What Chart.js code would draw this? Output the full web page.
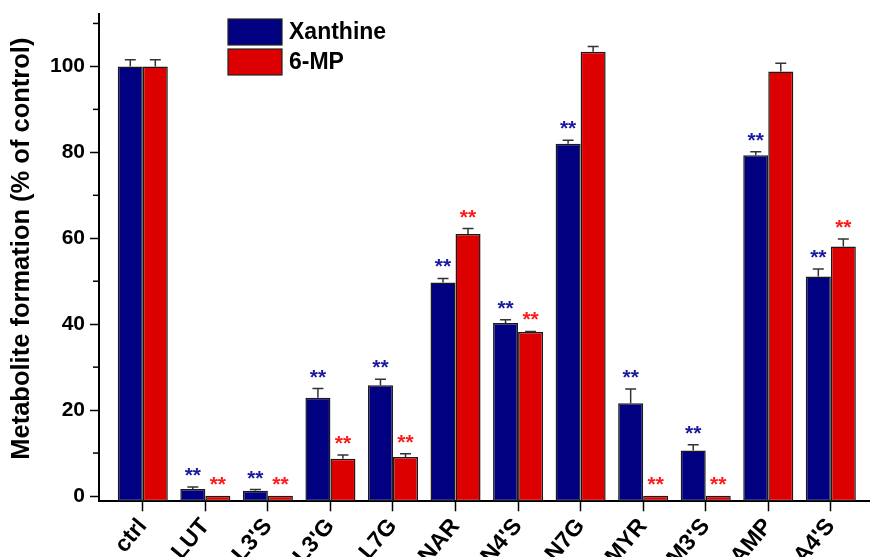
<!DOCTYPE html>
<html>
<head>
<meta charset="utf-8">
<script src="https://cdn.jsdelivr.net/npm/chart.js@4/dist/chart.umd.min.js"></script>
<style>
  html, body { margin: 0; padding: 0; overflow: hidden; background: #fff; }
  #wrap { position: absolute; left: 0; top: 0; width: 880px; height: 600px; }
</style>
</head>
<body>
<div id="wrap"><canvas id="c" width="880" height="600"></canvas></div>
<script>
// ---- data ----
const categories = ["ctrl", "LUT", "L3'S", "L3'G", "L7G", "NAR", "N4'S", "N7G", "MYR", "M3'S", "AMP", "A4'S"];
const xanthine    = [100, 1.65, 1.25, 22.9, 25.8, 49.7, 40.3, 82.0, 21.6, 10.6, 79.3, 51.1];
const xanthineErr = [1.55, 0.45, 0.25, 2.1, 1.4, 0.95, 0.75, 0.8, 3.3, 1.35, 0.85, 1.75];
const mp6         = [100, 0.05, 0.05, 8.7, 9.1, 61.0, 38.2, 103.4, 0.05, 0.05, 98.8, 58.1];
const mp6Err      = [1.55, 0, 0, 0.85, 0.75, 1.25, 0.1, 1.25, 0, 0, 1.95, 1.75];
const xanthineSig = [false, true, true, true, true, true, true, true, true, true, true, true];
const mp6Sig      = [false, true, true, true, true, true, true, false, true, true, false, true];
const yTicks = [0, 10, 20, 30, 40, 50, 60, 70, 80, 90, 100, 110];
const yTitle = 'Metabolite formation (% of control)';

const Y_MIN = -1.23, Y_MAX = 112.2;
const FONT = "'Liberation Sans', Arial, sans-serif";
const BLUE = '#000080', RED = '#dd0000';
const STAR_BLUE = '#1a1aa0', STAR_RED = '#ff1a1a';

const errs = [xanthineErr, mp6Err];
const sigs = [xanthineSig, mp6Sig];
const starColors = [STAR_BLUE, STAR_RED];

const extras = {
  id: 'extras',
  afterDatasetsDraw(chart) {
    const ctx = chart.ctx;
    const y = chart.scales.y;
    const area = chart.chartArea;
    ctx.save();
    // error bars and significance marks
    chart.data.datasets.forEach((ds, i) => {
      const meta = chart.getDatasetMeta(i);
      meta.data.forEach((bar, j) => {
        const v = ds.data[j].y;
        const e = errs[i][j];
        const yTop = y.getPixelForValue(v + e);
        if (e > 0) {
          ctx.strokeStyle = '#333';
          ctx.lineWidth = 1.5;
          ctx.beginPath();
          ctx.moveTo(bar.x, bar.y);
          ctx.lineTo(bar.x, yTop);
          ctx.moveTo(bar.x - 5.5, yTop);
          ctx.lineTo(bar.x + 5.5, yTop);
          ctx.stroke();
        }
        if (sigs[i][j]) {
          ctx.fillStyle = starColors[i];
          ctx.font = 'bold 21px ' + FONT;
          ctx.textAlign = 'center';
          ctx.textBaseline = 'alphabetic';
          ctx.fillText('**', bar.x, Math.min(yTop, bar.y) - 5);
        }
      });
    });
    // minor y ticks
    ctx.strokeStyle = '#000';
    ctx.lineWidth = 1.5;
    yTicks.forEach(t => {
      if (t % 20 !== 0) {
        const py = y.getPixelForValue(t);
        ctx.beginPath();
        ctx.moveTo(area.left - 6, py);
        ctx.lineTo(area.left, py);
        ctx.stroke();
      }
    });
    // legend
    const lx = area.left + 129, ly = area.top + 5;
    chart.data.datasets.forEach((ds, i) => {
      const by = ly + i * 30;
      ctx.fillStyle = ds.backgroundColor;
      ctx.fillRect(lx, by, 54, 26);
      ctx.strokeStyle = '#222';
      ctx.lineWidth = 1.2;
      ctx.strokeRect(lx, by, 54, 26);
      ctx.fillStyle = '#000';
      ctx.font = 'bold 23px ' + FONT;
      ctx.textAlign = 'left';
      ctx.textBaseline = 'middle';
      ctx.fillText(ds.label, lx + 61, by + 14);
    });
    // y-axis title
    ctx.translate(22, (area.top + area.bottom) / 2 - 9);
    ctx.rotate(-Math.PI / 2);
    ctx.fillStyle = '#000';
    ctx.font = 'bold 25.5px ' + FONT;
    ctx.textAlign = 'center';
    ctx.textBaseline = 'middle';
    ctx.fillText(yTitle, 0, 0);
    ctx.restore();
  }
};

const toPts = arr => arr.map((v, i) => ({ x: i, y: v }));

new Chart(document.getElementById('c'), {
  type: 'bar',
  data: {
    datasets: [
      { label: 'Xanthine', data: toPts(xanthine), backgroundColor: BLUE, borderColor: '#1a1a1a', borderWidth: 1.5, borderSkipped: false, base: Y_MIN },
      { label: '6-MP', data: toPts(mp6), backgroundColor: RED, borderColor: '#1a1a1a', borderWidth: 1.5, borderSkipped: false, base: Y_MIN }
    ]
  },
  options: {
    responsive: false,
    animation: false,
    events: [],
    layout: { padding: { left: 0, top: 14, right: 5.4, bottom: 0 } },
    datasets: { bar: { categoryPercentage: 0.8, barPercentage: 1.0 } },
    plugins: { legend: { display: false }, tooltip: { enabled: false } },
    scales: {
      x: {
        type: 'linear',
        min: -0.7, max: 11.7,
        offset: false,
        afterBuildTicks: s => { s.ticks = categories.map((c, i) => ({ value: i })); },
        afterFit: s => { s.height = 98.7; },
        grid: { display: true, drawOnChartArea: false, offset: false, tickLength: 10, tickWidth: 1.5, tickColor: '#000' },
        border: { display: true, color: '#000', width: 2 },
        ticks: {
          autoSkip: false, minRotation: 50, maxRotation: 50, padding: 2,
          color: '#000',
          font: { family: FONT, size: 23, weight: 'bold' },
          callback: v => categories[v]
        }
      },
      y: {
        min: Y_MIN, max: Y_MAX,
        afterBuildTicks: s => { s.ticks = yTicks.map(v => ({ value: v })); },
        afterFit: s => { s.width = 99; s.paddingTop = 0; s.paddingBottom = 0; },
        grid: { display: true, drawOnChartArea: false, tickLength: 9, tickWidth: 1.5,
                tickColor: c => (c.tick && c.tick.value % 20 !== 0) ? 'rgba(0,0,0,0)' : '#000' },
        border: { display: true, color: '#000', width: 2 },
        ticks: {
          color: '#000', padding: 5,
          font: { family: FONT, size: 21, weight: 'bold' },
          callback: v => (v % 20 === 0 ? String(v) : '')
        }
      }
    }
  },
  plugins: [extras]
});
</script>
</body>
</html>
